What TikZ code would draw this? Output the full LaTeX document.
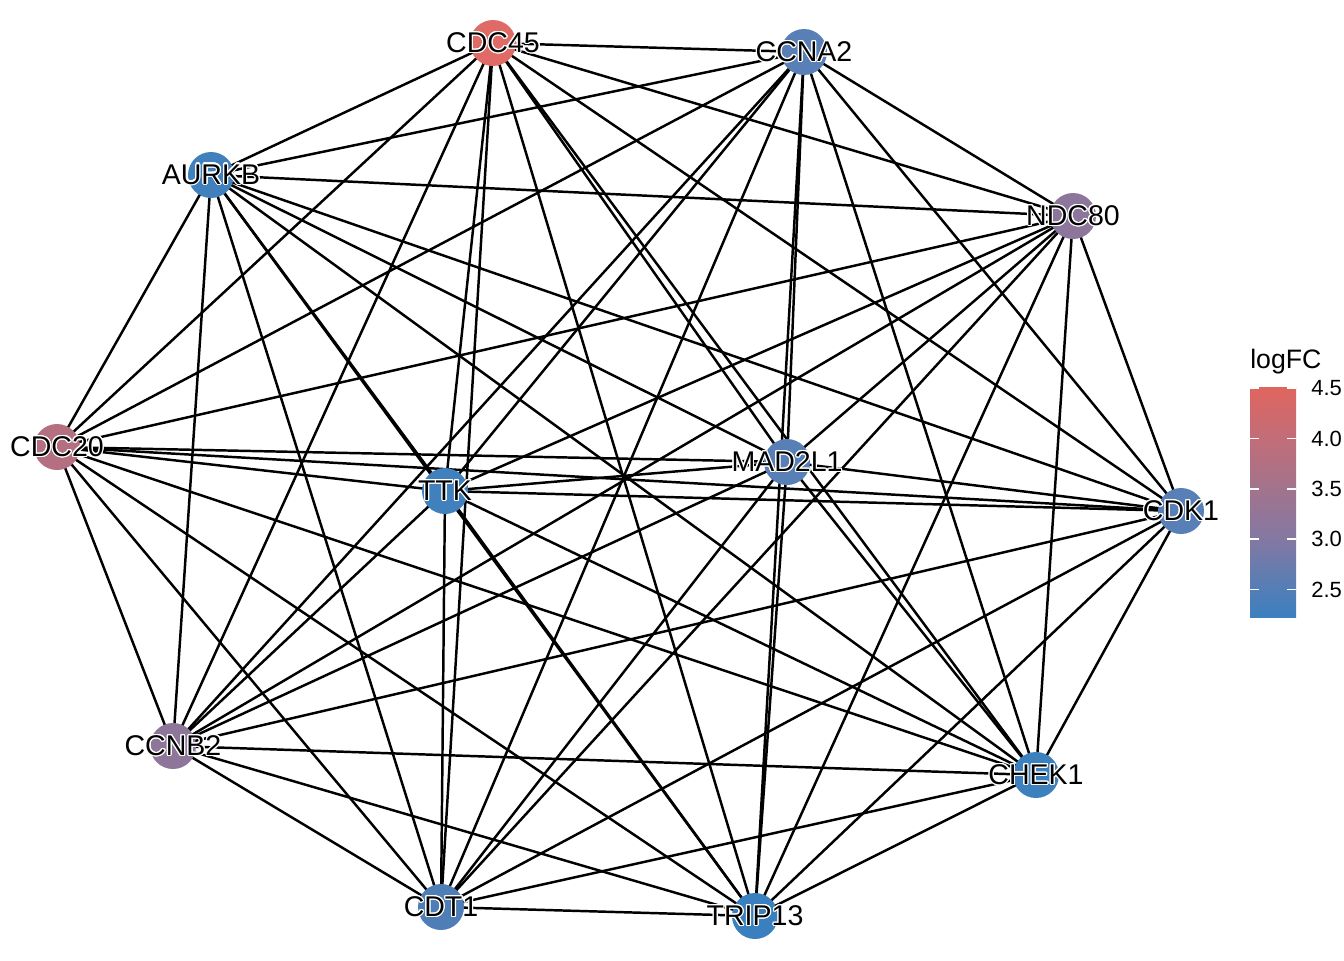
\documentclass[tikz,border=0pt]{standalone}
\usepackage{fontspec}
\setmainfont{Liberation Sans}
\usepackage{contour}
\contourlength{0.9pt}
\usetikzlibrary{backgrounds}

\definecolor{cCDC45}{HTML}{E06A66}
\definecolor{cCCNA2}{HTML}{5880B7}
\definecolor{cAURKB}{HTML}{3F80BD}
\definecolor{cNDC80}{HTML}{8D769B}
\definecolor{cCDC20}{HTML}{B47080}
\definecolor{cMAD2L1}{HTML}{5880B7}
\definecolor{cTTK}{HTML}{3F80BD}
\definecolor{cCDK1}{HTML}{5880B7}
\definecolor{cCCNB2}{HTML}{8D769A}
\definecolor{cCHEK1}{HTML}{3C80BE}
\definecolor{cCDT1}{HTML}{4F7EB7}
\definecolor{cTRIP13}{HTML}{3A80BE}

\definecolor{fca}{HTML}{3C7FBF}
\definecolor{fcb}{HTML}{547EB6}
\definecolor{fcc}{HTML}{8478A2}
\definecolor{fcd}{HTML}{A3738C}
\definecolor{fce}{HTML}{C26D78}
\definecolor{fcf}{HTML}{E0655F}
\pgfdeclareverticalshading{logfcbar}{100bp}{color(0bp)=(fca); color(25bp)=(fca);
  color(31.1bp)=(fcb); color(42.1bp)=(fcc); color(53.1bp)=(fcd); color(64bp)=(fce);
  color(75bp)=(fcf); color(100bp)=(fcf)}

\tikzset{
  gene/.style={circle, minimum size=34.5pt, inner sep=0pt, fill=#1},
  genetext/.style={font=\fontsize{21.4pt}{24pt}\selectfont, inner sep=0pt},
  edge/.style={line width=1.85pt, black},
}

\begin{document}
\begin{tikzpicture}[x=0.75pt, y=-0.75pt]
  \useasboundingbox (0,0) rectangle (1344,960);

  % genes
  \node[gene=cCDC45, label={[genetext]center:\contour{white}{CDC45}}] (CDC45) at (493,43) {};
  \node[gene=cCCNA2, label={[genetext]center:\contour{white}{CCNA2}}] (CCNA2) at (804,52) {};
  \node[gene=cAURKB, label={[genetext]center:\contour{white}{AURKB}}] (AURKB) at (211,175) {};
  \node[gene=cNDC80, label={[genetext]center:\contour{white}{NDC80}}] (NDC80) at (1073,216) {};
  \node[gene=cCDC20, label={[genetext]center:\contour{white}{CDC20}}] (CDC20) at (57,447) {};
  \node[gene=cMAD2L1, label={[genetext]center:\contour{white}{MAD2L1}}] (MAD2L1) at (787,462) {};
  \node[gene=cTTK, label={[genetext]center:\contour{white}{TTK}}] (TTK) at (445,491) {};
  \node[gene=cCDK1, label={[genetext]center:\contour{white}{CDK1}}] (CDK1) at (1181,511) {};
  \node[gene=cCCNB2, label={[genetext]center:\contour{white}{CCNB2}}] (CCNB2) at (173,746) {};
  \node[gene=cCHEK1, label={[genetext]center:\contour{white}{CHEK1}}] (CHEK1) at (1036,775) {};
  \node[gene=cCDT1, label={[genetext]center:\contour{white}{CDT1}}] (CDT1) at (441,907) {};
  \node[gene=cTRIP13, label={[genetext]center:\contour{white}{TRIP13}}] (TRIP13) at (755,916) {};

  % every pair is linked
  \begin{scope}[on background layer]
    \foreach \a [count=\i] in {CDC45,CCNA2,AURKB,NDC80,CDC20,MAD2L1,TTK,CDK1,CCNB2,CHEK1,CDT1,TRIP13}
      \foreach \b [count=\j] in {CDC45,CCNA2,AURKB,NDC80,CDC20,MAD2L1,TTK,CDK1,CCNB2,CHEK1,CDT1,TRIP13}
        {\ifnum\j>\i \draw[edge] (\a.center) -- (\b.center); \fi}
  \end{scope}

  % legend
  \node[anchor=base west, inner sep=0pt, font=\fontsize{20pt}{24pt}\selectfont] (legtitle) at (1250,368) {logFC};
  \shade[shading=logfcbar] (1250,387) rectangle (1296,617);
  \foreach \v/\y in {4.5/388,4.0/438.5,3.5/489,3.0/539,2.5/589.5} {
    \draw[white, line width=0.8pt] (1250,\y) -- (1259,\y) (1287,\y) -- (1296,\y);
    \node[anchor=west, inner sep=0pt, font=\fontsize{16.5pt}{19pt}\selectfont] at (1311,\y) {\v};
  }
\end{tikzpicture}
\end{document}
